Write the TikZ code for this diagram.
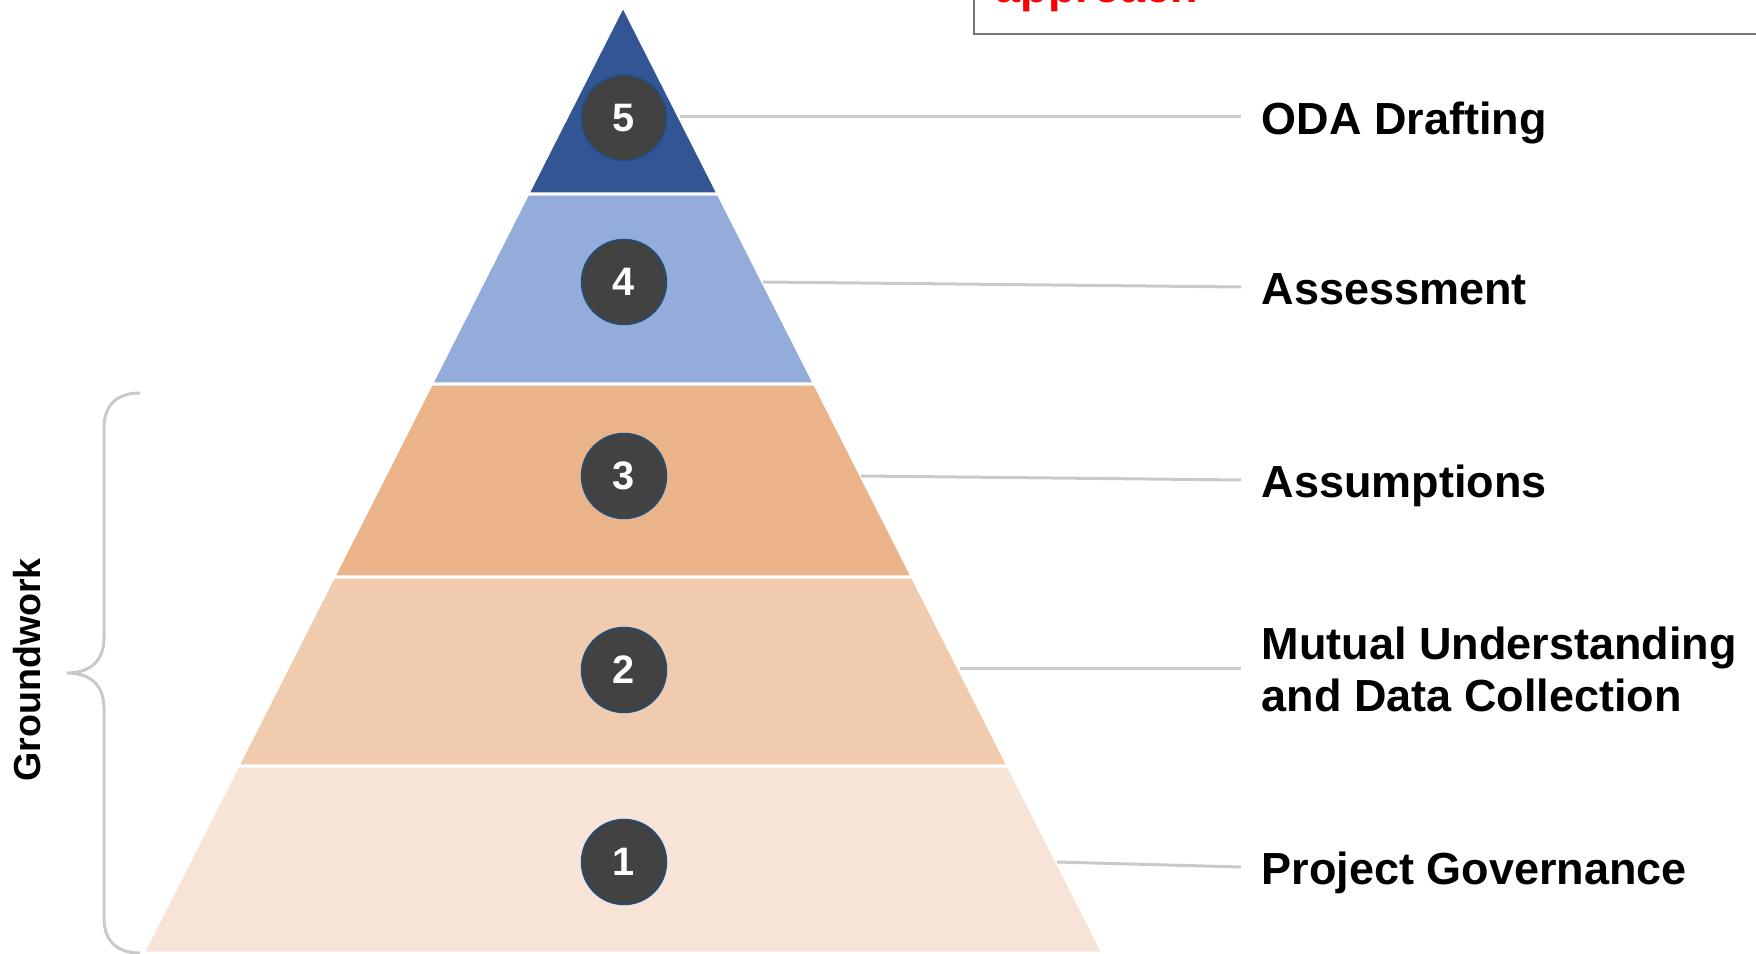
\documentclass[tikz,border=0pt]{standalone}
\usepackage{fontspec}
\setmainfont{Liberation Sans}
\usepackage{tikz}

\definecolor{lvlfive}{HTML}{335593}
\definecolor{lvlfour}{HTML}{94ACDA}
\definecolor{lvlthree}{HTML}{EAB38A}
\definecolor{lvltwo}{HTML}{F0CBAE}
\definecolor{lvlone}{HTML}{F7E4D6}
\definecolor{dotfill}{HTML}{424242}
\definecolor{dotrim}{HTML}{1F4E79}
\definecolor{linegray}{HTML}{C9C9C9}
\definecolor{boxgray}{HTML}{767676}

\begin{document}
\begin{tikzpicture}
        \tikzstyle{band} = [draw=white, line width=0.03cm]
        \tikzstyle{num} = [circle, minimum size=0.85cm, inner sep=0pt, fill=dotfill, draw=dotrim,
                line width=0.015cm, text=white, font=\bfseries\fontsize{11.3}{11.3}\selectfont]
        \tikzstyle{lbl} = [anchor=west, inner xsep=0.2cm, inner ysep=0pt,
                font=\bfseries\fontsize{12.8}{14.8}\selectfont]
        \tikzstyle{oneline} = [text height=0.36cm, text depth=0cm]
        \tikzstyle{conn} = [draw=linegray, line width=0.03cm]
        \useasboundingbox (0,0) rectangle (17.56,9.53);
        % pyramid
        \filldraw[fill=lvlone, band] (1.43,0) -- (11.03,0) -- (10.082,1.87) -- (2.378,1.87) -- cycle;
        \filldraw[fill=lvltwo, band] (2.378,1.87) -- (10.082,1.87) -- (9.124,3.76) -- (3.336,3.76) -- cycle;
        \filldraw[fill=lvlthree, band] (3.336,3.76) -- (9.124,3.76) -- (8.146,5.69) -- (4.314,5.69) -- cycle;
        \filldraw[fill=lvlfour, band] (4.314,5.69) -- (8.146,5.69) -- (7.183,7.59) -- (5.277,7.59) -- cycle;
        \filldraw[fill=lvlfive, band] (5.277,7.59) -- (7.183,7.59) -- (6.23,9.47) -- cycle;
        \node[num] (n5) at (6.24,8.35) {5};
        \node[num] (n4) at (6.24,6.71) {4};
        \node[num] (n3) at (6.24,4.77) {3};
        \node[num] (n2) at (6.24,2.83) {2};
        \node[num] (n1) at (6.24,0.91) {1};
        \coordinate (p5) at (6.80,8.36);
        \coordinate (p4) at (7.63,6.71);
        \coordinate (p3) at (8.61,4.77);
        \coordinate (p2) at (9.60,2.84);
        \coordinate (p1) at (10.57,0.91);
        % labels
        \node[lbl, oneline] (t5) at (12.41,8.36) {ODA Drafting};
        \node[lbl, oneline] (t4) at (12.41,6.66) {Assessment};
        \node[lbl, oneline] (t3) at (12.41,4.73) {Assumptions};
        \node[lbl, align=left] (t2) at (12.41,2.84) {Mutual Understanding\\and Data Collection};
        \node[lbl, oneline] (t1) at (12.41,0.86) {Project Governance};
        \foreach \from/\to in {p5/t5, p4/t4, p3/t3, p2/t2, p1/t1}
            \draw[conn] (\from) -- (\to.west);
        % groundwork brace
        \draw[linegray, line width=0.03cm] (1.40,5.60) .. controls (1.17,5.60) and (1.04,5.48) .. (1.04,5.25)
                -- (1.04,3.15) .. controls (1.04,2.92) and (0.90,2.80) .. (0.67,2.80)
                .. controls (0.90,2.80) and (1.04,2.68) .. (1.04,2.45)
                -- (1.04,0.35) .. controls (1.04,0.12) and (1.17,0) .. (1.40,0);
        \node[rotate=90, font=\bfseries\fontsize{10.7}{10.7}\selectfont] (gw) at (0.275,2.83) {Groundwork};
        % note box, cut off at the top
        \draw[boxgray, line width=0.02cm] (9.74,9.19) rectangle (17.8,9.8);
        \node[anchor=base west, inner sep=0pt, text=red, font=\bfseries\fontsize{12.8}{14.8}\selectfont]
                (note) at (9.95,9.50) {approach};
    \end{tikzpicture}
\end{document}
